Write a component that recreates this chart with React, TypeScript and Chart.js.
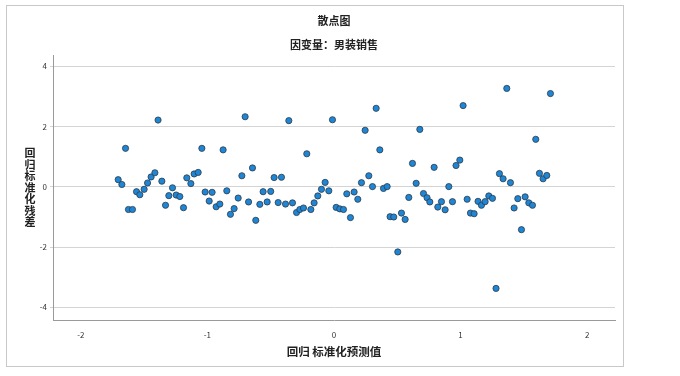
import React, { useEffect, useRef } from "react";
import { Chart, registerables } from "chart.js";

Chart.register(...registerables);

const title = "散点图";
const subtitle = "因变量：男装销售";
const xTitle = "回归 标准化预测值";
const yTitle = "回归标准化残差";

const predicted: number[] = [
  -1.705, -1.676, -1.647, -1.624, -1.592, -1.56, -1.534, -1.5, -1.473, -1.445,
  -1.415, -1.39, -1.36, -1.331, -1.305, -1.276, -1.247, -1.218, -1.189, -1.163,
  -1.131, -1.105, -1.073, -1.044, -1.018, -0.986, -0.963, -0.931, -0.902, -0.876,
  -0.847, -0.818, -0.789, -0.757, -0.728, -0.702, -0.675, -0.644, -0.618, -0.586,
  -0.56, -0.528, -0.5, -0.473, -0.441, -0.415, -0.383, -0.357, -0.328, -0.296,
  -0.27, -0.241, -0.215, -0.183, -0.157, -0.128, -0.099, -0.07, -0.041, -0.012,
  0.017, 0.046, 0.075, 0.101, 0.13, 0.159, 0.188, 0.217, 0.246, 0.275,
  0.304, 0.333, 0.362, 0.391, 0.42, 0.443, 0.472, 0.504, 0.533, 0.562,
  0.591, 0.62, 0.649, 0.678, 0.707, 0.735, 0.757, 0.791, 0.82, 0.849,
  0.878, 0.907, 0.936, 0.964, 0.994, 1.02, 1.052, 1.078, 1.107, 1.138,
  1.165, 1.194, 1.223, 1.252, 1.28, 1.307, 1.336, 1.365, 1.394, 1.423,
  1.452, 1.481, 1.51, 1.539, 1.568, 1.594, 1.623, 1.652, 1.681, 1.71,
];

const residuals: number[] = [
  0.24, 0.08, 1.28, -0.75, -0.75, -0.16, -0.26, -0.08, 0.13, 0.33,
  0.47, 2.22, 0.19, -0.61, -0.29, -0.03, -0.27, -0.32, -0.69, 0.3,
  0.11, 0.43, 0.48, 1.28, -0.17, -0.47, -0.18, -0.66, -0.57, 1.23,
  -0.13, -0.91, -0.72, -0.37, 0.37, 2.33, -0.5, 0.63, -1.11, -0.58,
  -0.16, -0.5, -0.15, 0.31, -0.52, 0.32, -0.57, 2.2, -0.53, -0.85,
  -0.75, -0.7, 1.1, -0.75, -0.53, -0.3, -0.08, 0.15, -0.13, 2.23,
  -0.68, -0.73, -0.75, -0.23, -1.02, -0.17, -0.41, 0.14, 1.88, 0.37,
  0.01, 2.61, 1.23, -0.05, 0.01, -0.99, -1.0, -2.16, -0.87, -1.08,
  -0.35, 0.78, 0.12, 1.91, -0.22, -0.36, -0.5, 0.65, -0.67, -0.49,
  -0.76, 0.01, -0.49, 0.71, 0.89, 2.7, -0.41, -0.87, -0.89, -0.48,
  -0.61, -0.49, -0.3, -0.38, -3.37, 0.44, 0.27, 3.27, 0.14, -0.7,
  -0.39, -1.42, -0.33, -0.53, -0.61, 1.58, 0.45, 0.27, 0.38, 3.1,
];

const xTicks: number[] = [-2, -1, 0, 1, 2];
const yTicks: number[] = [-4, -2, 0, 2, 4];

const FONT = '"Noto Sans CJK SC", "Noto Sans", sans-serif';

export default function App() {
  const canvasRef = useRef<HTMLCanvasElement | null>(null);

  useEffect(() => {
    const canvas = canvasRef.current;
    if (!canvas) return;

    const textPlugin = {
      id: "texts",
      afterDraw(chart: any) {
        const ctx = chart.ctx as CanvasRenderingContext2D;
        const area = chart.chartArea;
        const cx = (area.left + area.right) / 2;
        ctx.save();
        ctx.fillStyle = "#222";
        ctx.textAlign = "center";
        ctx.textBaseline = "middle";
        ctx.font = `bold 11px ${FONT}`;
        ctx.fillText(title, 334, 21);
        ctx.fillText(subtitle, 334, 45);
        ctx.font = `bold 11.5px ${FONT}`;
        ctx.fillText(xTitle, cx, 352);
        ctx.font = `bold 11px ${FONT}`;
        const chars = Array.from(yTitle);
        const step = 11.5;
        const midY = (area.top + area.bottom) / 2;
        const startY = midY - ((chars.length - 1) * step) / 2;
        chars.forEach((c, i) => ctx.fillText(c, 30, startY + i * step));
        ctx.restore();
      },
    };

    const chart = new Chart(canvas, {
      type: "scatter",
      data: {
        datasets: [
          {
            data: predicted.map((x, i) => ({ x, y: residuals[i] })),
            backgroundColor: "#1f86d6",
            borderColor: "#2b3a48",
            borderWidth: 0.8,
            pointRadius: 3.1,
            pointHoverRadius: 3.1,
          },
        ],
      },
      options: {
        animation: false,
        responsive: false,
        maintainAspectRatio: false,
        layout: { padding: { left: 0, right: 65, top: 55, bottom: 0 } },
        plugins: {
          legend: { display: false },
          tooltip: { enabled: false },
          title: { display: false },
        },
        scales: {
          x: {
            type: "linear",
            min: -2.22,
            max: 2.22,
            afterFit(scale: any) {
              scale.height = 56;
            },
            afterBuildTicks(scale: any) {
              scale.ticks = xTicks.map((v) => ({ value: v }));
            },
            ticks: {
              includeBounds: false,
              font: { size: 8, family: FONT },
              color: "#333",
              padding: 2,
              callback: (v: any) => String(v),
            },
            grid: { display: false },
            border: { display: true, color: "#9a9a9a", width: 1 },
          },
          y: {
            type: "linear",
            min: -4.42,
            max: 4.38,
            afterFit(scale: any) {
              scale.width = 53;
            },
            afterBuildTicks(scale: any) {
              scale.ticks = yTicks.map((v) => ({ value: v }));
            },
            ticks: {
              includeBounds: false,
              font: { size: 8, family: FONT },
              color: "#333",
              padding: 3,
              callback: (v: any) => String(v),
            },
            grid: {
              display: true,
              color: "#d4d4d4",
              lineWidth: 1,
              drawTicks: true,
              tickLength: 3,
            },
            border: { display: true, color: "#9a9a9a", width: 1 },
          },
        },
      },
      plugins: [textPlugin],
    });

    return () => chart.destroy();
  }, []);

  return (
    <div
      style={{
        position: "fixed",
        left: 0,
        top: 0,
        width: 680,
        height: 376,
        background: "#fff",
      }}
    >
      <div
        style={{
          position: "absolute",
          left: 6,
          top: 5,
          width: 616,
          height: 360,
          border: "1px solid #c8c8c8",
          boxSizing: "content-box",
        }}
      />
      <canvas
        ref={canvasRef}
        width={680}
        height={376}
        style={{ position: "absolute", left: 0, top: 0, width: 680, height: 376 }}
      />
    </div>
  );
}
